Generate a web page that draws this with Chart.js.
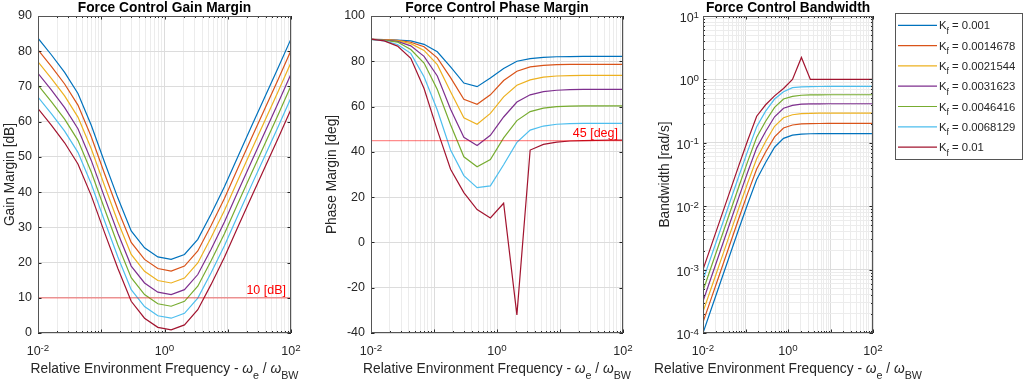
<!DOCTYPE html>
<html>
<head>
<meta charset="utf-8">
<script src="https://cdn.jsdelivr.net/npm/chart.js@4.4.1/dist/chart.umd.min.js"></script>
<style>
    body { margin: 0; background: #fff; width: 1024px; height: 382px; overflow: hidden; position: relative; }
    canvas { position: absolute; top: 0; }
</style>
</head>
<body>
<canvas id="gain" width="320" height="382" style="left:0"></canvas>
<canvas id="phase" width="320" height="382" style="left:320px"></canvas>
<canvas id="bw" width="384" height="382" style="left:640px"></canvas>
<script>
// sample points (relative environment frequency)
const FREQ = [0.01, 0.016238, 0.026367, 0.042813, 0.069519, 0.11288, 0.1833, 0.29764, 0.48329, 0.78476,
    1.2743, 2.0691, 3.3598, 5.4556, 8.8587, 14.384, 23.357, 37.927, 61.585, 100];
const KF_VALUES = ['0.001', '0.0014678', '0.0021544', '0.0031623', '0.0046416', '0.0068129', '0.01'];
const COLORS = ['#0072BD', '#D95319', '#EDB120', '#7E2F8E', '#77AC30', '#4DBEEE', '#A2142F'];

// one row per Kf
const GAIN_MARGIN = [
    [83.7, 79.0, 74.0, 68.0, 59.0, 48.5, 38.3, 29.0, 24.2, 21.6, 20.9, 22.3, 26.6, 33.8, 41.5, 50.0, 58.4, 66.7, 75.0, 83.5],
    [80.4, 75.7, 70.7, 64.7, 55.7, 45.2, 35.0, 25.7, 20.9, 18.3, 17.6, 19.0, 23.3, 30.5, 38.2, 46.7, 55.1, 63.4, 71.7, 80.2],
    [77.0, 72.3, 67.3, 61.3, 52.3, 41.8, 31.6, 22.3, 17.5, 14.9, 14.2, 15.6, 19.9, 27.1, 34.8, 43.3, 51.7, 60.0, 68.3, 76.8],
    [73.7, 69.0, 64.0, 58.0, 49.0, 38.5, 28.3, 19.0, 14.2, 11.6, 10.9, 12.3, 16.6, 23.8, 31.5, 40.0, 48.4, 56.7, 65.0, 73.5],
    [70.4, 65.7, 60.7, 54.7, 45.7, 35.2, 25.0, 15.7, 10.9, 8.3, 7.6, 9.0, 13.3, 20.5, 28.2, 36.7, 45.1, 53.4, 61.7, 70.2],
    [67.0, 62.3, 57.3, 51.3, 42.3, 31.8, 21.6, 12.3, 7.5, 4.9, 4.2, 5.6, 9.9, 17.1, 24.8, 33.3, 41.7, 50.0, 58.3, 66.8],
    [63.7, 59.0, 54.0, 48.0, 39.0, 28.5, 18.3, 9.0, 4.2, 1.6, 0.9, 2.3, 6.6, 13.8, 21.5, 30.0, 38.4, 46.7, 55.0, 63.5],
];
const PHASE_MARGIN = [
    [89.7, 89.6, 89.4, 89.0, 87.5, 84.2, 77.5, 70.4, 68.8, 72.6, 76.8, 80.0, 81.2, 81.7, 82.0, 82.1, 82.2, 82.2, 82.2, 82.2],
    [89.7, 89.6, 89.3, 88.4, 86.4, 81.5, 72.8, 63.2, 61.0, 65.2, 71.5, 75.6, 77.5, 78.2, 78.5, 78.6, 78.6, 78.6, 78.6, 78.6],
    [89.7, 89.5, 89.1, 87.8, 84.8, 78.5, 66.5, 55.0, 52.2, 57.0, 64.3, 69.4, 71.8, 73.0, 73.5, 73.7, 73.8, 73.8, 73.8, 73.8],
    [89.7, 89.4, 88.8, 86.8, 82.2, 73.5, 58.8, 46.4, 42.8, 47.3, 55.4, 62.0, 65.2, 66.6, 67.2, 67.5, 67.6, 67.6, 67.6, 67.6],
    [89.7, 89.3, 88.5, 85.2, 79.2, 67.5, 52.0, 37.8, 33.4, 36.6, 46.2, 53.8, 57.8, 59.3, 60.0, 60.2, 60.3, 60.3, 60.3, 60.3],
    [89.7, 89.0, 87.4, 83.5, 73.2, 58.5, 40.8, 29.5, 24.2, 25.0, 34.3, 44.2, 49.6, 51.4, 52.2, 52.5, 52.6, 52.6, 52.6, 52.6],
    [89.8, 89.0, 86.7, 81.3, 68.0, 49.6, 32.3, 22.0, 14.5, 10.8, 17.3, -32.0, 40.8, 43.3, 44.3, 44.8, 45.0, 45.1, 45.2, 45.2],
];
const BANDWIDTH = [
    [1.0e-4, 2.57e-4, 6.61e-4, 1.70e-3, 4.37e-3, 0.01096, 0.0263, 0.049, 0.0851, 0.1175, 0.1318, 0.1374, 0.139, 0.1396, 0.14, 0.14, 0.14, 0.14, 0.14, 0.14],
    [1.47e-4, 3.78e-4, 9.70e-4, 2.49e-3, 6.41e-3, 0.0161, 0.0386, 0.0716, 0.124, 0.171, 0.191, 0.199, 0.201, 0.2015, 0.202, 0.202, 0.202, 0.202, 0.202, 0.202],
    [2.15e-4, 5.50e-4, 1.41e-3, 3.63e-3, 9.33e-3, 0.0234, 0.0562, 0.1047, 0.182, 0.248, 0.277, 0.288, 0.292, 0.293, 0.294, 0.294, 0.294, 0.294, 0.294, 0.294],
    [3.16e-4, 8.13e-4, 2.09e-3, 5.37e-3, 0.0138, 0.0347, 0.0832, 0.151, 0.257, 0.351, 0.389, 0.406, 0.41, 0.412, 0.413, 0.413, 0.413, 0.413, 0.413, 0.413],
    [4.64e-4, 1.19e-3, 3.07e-3, 7.89e-3, 0.0203, 0.0509, 0.122, 0.219, 0.363, 0.49, 0.54, 0.562, 0.569, 0.571, 0.573, 0.573, 0.573, 0.573, 0.573, 0.573],
    [6.81e-4, 1.75e-3, 4.50e-3, 0.01156, 0.0297, 0.0746, 0.179, 0.316, 0.49, 0.64, 0.741, 0.76, 0.769, 0.773, 0.775, 0.775, 0.775, 0.775, 0.775, 0.775],
    [1.0e-3, 2.57e-3, 6.61e-3, 0.017, 0.0437, 0.1096, 0.263, 0.398, 0.55, 0.72, 1.0, 2.22, 1.0, 1.0, 1.0, 1.0, 1.0, 1.0, 1.0, 1.0],
];

const GAIN_REF = 10;
const PHASE_REF = 45;
const X_TICK_EXP = [-2, 0, 2];
const BW_TICK_EXP = [-4, -3, -2, -1, 0, 1];

const FONT = '"Liberation Sans", Arial, Helvetica, sans-serif';
const INK = '#262626';
const GRID_MAJOR = '#dcdcdc';
const GRID_MINOR = '#ececec';

function isDecade(v) {
    const l = Math.log10(v);
    return Math.abs(l - Math.round(l)) < 1e-6;
}

function logGrid(minExp, maxExp) {
    const vals = [];
    for (let e = minExp; e < maxExp; e++) {
        for (let m = 1; m < 10; m++) vals.push(m * Math.pow(10, e));
    }
    vals.push(Math.pow(10, maxExp));
    return vals;
}

// text with sub/superscripts: parts = [{t, k: 1 sup / -1 sub, it}]
function rich(ctx, parts, x, y, size, align) {
    const fontFor = (p) => `${p.it ? 'italic ' : ''}${p.k ? size * 0.78 : size}px ${FONT}`;
    let w = 0;
    parts.forEach((p) => { ctx.font = fontFor(p); p.w = ctx.measureText(p.t).width; w += p.w; });
    let cx = align === 'center' ? x - w / 2 : align === 'right' ? x - w : x;
    ctx.textAlign = 'left';
    ctx.textBaseline = 'alphabetic';
    parts.forEach((p) => {
        ctx.font = fontFor(p);
        const dy = p.k === 1 ? -size * 0.36 : p.k === -1 ? size * 0.4 : 0;
        ctx.fillText(p.t, cx, y + dy);
        cx += p.w;
    });
}

const X_TITLE = () => [
    { t: 'Relative Environment Frequency - ' }, { t: 'ω', it: true }, { t: 'e', k: -1 },
    { t: ' / ' }, { t: 'ω', it: true }, { t: 'BW', k: -1 },
];

const matlabAxes = {
    id: 'matlabAxes',
    afterDraw(chart, args, o) {
        const { ctx, chartArea: a, scales } = chart;
        const xs = scales.x;
        const ys = scales.y;
        ctx.save();

        // inward tick marks + box
        ctx.strokeStyle = INK;
        ctx.lineWidth = 1;
        ctx.beginPath();
        xs.ticks.forEach((t) => {
            const px = Math.round(xs.getPixelForValue(t.value)) + 0.5;
            const len = isDecade(t.value) ? 3.5 : 2;
            ctx.moveTo(px, a.bottom); ctx.lineTo(px, a.bottom - len);
            ctx.moveTo(px, a.top); ctx.lineTo(px, a.top + len);
        });
        ys.ticks.forEach((t) => {
            const py = Math.round(ys.getPixelForValue(t.value)) + 0.5;
            const len = (!o.logY || isDecade(t.value)) ? 3.5 : 2;
            ctx.moveTo(a.left, py); ctx.lineTo(a.left + len, py);
            ctx.moveTo(a.right, py); ctx.lineTo(a.right - len, py);
        });
        ctx.stroke();
        ctx.strokeStyle = '#555';
        ctx.strokeRect(Math.round(a.left) + 0.5, Math.round(a.top) + 0.5,
            Math.round(a.right - a.left) - 1, Math.round(a.bottom - a.top) - 1);

        ctx.fillStyle = INK;
        X_TICK_EXP.forEach((e) => {
            rich(ctx, [{ t: '10' }, { t: String(e), k: 1 }], xs.getPixelForValue(Math.pow(10, e)), a.bottom + 22, 12.5, 'center');
        });
        if (o.logY) {
            BW_TICK_EXP.forEach((e) => {
                rich(ctx, [{ t: '10' }, { t: String(e), k: 1 }], a.left - 4, ys.getPixelForValue(Math.pow(10, e)) + 6, 12.5, 'right');
            });
        }

        // axis titles
        rich(ctx, X_TITLE(), (a.left + a.right) / 2, 373, 13.75, 'center');
        ctx.save();
        ctx.translate(o.yTitleX, (a.top + a.bottom) / 2);
        ctx.rotate(-Math.PI / 2);
        rich(ctx, [{ t: o.yTitle }], 0, 0, 13.75, 'center');
        ctx.restore();

        if (o.refText) {
            ctx.fillStyle = '#ff0000';
            ctx.font = `12.5px ${FONT}`;
            ctx.textAlign = 'right';
            ctx.textBaseline = 'alphabetic';
            ctx.fillText(o.refText, a.right - 5, ys.getPixelForValue(o.refValue) - 4);
        }

        if (o.legend) {
            const L = o.legend;
            ctx.fillStyle = '#fff';
            ctx.fillRect(L.left, L.top, L.width, L.height);
            ctx.strokeStyle = '#555';
            ctx.strokeRect(L.left + 0.5, L.top + 0.5, L.width - 1, L.height - 1);
            KF_VALUES.forEach((kf, i) => {
                const cy = L.top + 12.3 + i * 20.3;
                ctx.strokeStyle = COLORS[i];
                ctx.lineWidth = 1.2;
                ctx.beginPath();
                ctx.moveTo(L.left + 3, cy);
                ctx.lineTo(L.left + 42, cy);
                ctx.stroke();
                ctx.fillStyle = INK;
                rich(ctx, [{ t: 'K' }, { t: 'f', k: -1 }, { t: ` = ${kf}` }], L.left + 44, cy + 4, 11.3, 'left');
            });
        }
        ctx.restore();
    },
};

function makePanel(id, rows, opts) {
    const datasets = rows.map((row, i) => ({
        label: `Kf = ${KF_VALUES[i]}`,
        data: FREQ.map((f, j) => ({ x: f, y: row[j] })),
        borderColor: COLORS[i],
        borderWidth: 1.2,
        pointRadius: 0,
        tension: 0,
        order: -i,
    }));
    if (opts.refValue !== undefined) {
        datasets.push({
            label: 'ref',
            data: [{ x: FREQ[0], y: opts.refValue }, { x: FREQ[FREQ.length - 1], y: opts.refValue }],
            borderColor: 'rgba(255,0,0,0.45)',
            borderWidth: 1.2,
            pointRadius: 0,
            order: -10,
        });
    }
    const xGrid = logGrid(-2, 2);
    const yScale = opts.logY
        ? {
            type: 'logarithmic', min: 1e-4, max: 10,
            afterBuildTicks: (s) => { s.ticks = logGrid(-4, 1).map((v) => ({ value: v })); },
            ticks: { display: false, autoSkip: false },
            grid: { drawTicks: false, color: (c) => (c.tick && isDecade(c.tick.value) ? GRID_MAJOR : GRID_MINOR) },
        }
        : {
            type: 'linear', min: opts.yMin, max: opts.yMax,
            ticks: { stepSize: opts.yStep, padding: 6, autoSkip: false, color: INK, font: { family: FONT, size: 12.5 } },
            grid: { drawTicks: false, color: GRID_MAJOR },
        };
    yScale.border = { display: false };
    yScale.afterFit = (s) => { s.width = opts.yWidth; };

    return new Chart(document.getElementById(id), {
        type: 'line',
        data: { datasets },
        options: {
            responsive: false,
            animation: false,
            devicePixelRatio: 1,
            layout: { padding: { left: 0, top: 0, right: opts.padRight, bottom: 0 } },
            plugins: {
                legend: { display: false },
                tooltip: { enabled: false },
                title: {
                    display: true,
                    text: opts.title,
                    fullSize: false,
                    color: '#000',
                    padding: 0,
                    font: { family: FONT, size: 13.75, weight: 'bold', lineHeight: '16px' },
                },
                matlabAxes: {
                    yTitle: opts.yTitle, yTitleX: opts.yTitleX, logY: !!opts.logY,
                    refText: opts.refText, refValue: opts.refValue, legend: opts.legend,
                },
            },
            scales: {
                x: {
                    type: 'logarithmic', min: 0.01, max: 100,
                    afterBuildTicks: (s) => { s.ticks = xGrid.map((v) => ({ value: v })); },
                    afterFit: (s) => { s.height = 49; },
                    ticks: { display: false, autoSkip: false },
                    border: { display: false },
                    grid: { drawTicks: false, color: (c) => (c.tick && isDecade(c.tick.value) ? GRID_MAJOR : GRID_MINOR) },
                },
                y: yScale,
            },
        },
        plugins: [matlabAxes],
    });
}

makePanel('gain', GAIN_MARGIN, {
    title: 'Force Control Gain Margin', yTitle: 'Gain Margin [dB]', yTitleX: 14,
    yMin: 0, yMax: 90, yStep: 10, yWidth: 38, padRight: 29,
    refValue: GAIN_REF, refText: '10 [dB]',
});
makePanel('phase', PHASE_MARGIN, {
    title: 'Force Control Phase Margin', yTitle: 'Phase Margin [deg]', yTitleX: 16,
    yMin: -40, yMax: 100, yStep: 20, yWidth: 51, padRight: 17,
    refValue: PHASE_REF, refText: '45 [deg]',
});
makePanel('bw', BANDWIDTH, {
    title: 'Force Control Bandwidth', yTitle: 'Bandwidth [rad/s]', yTitleX: 29,
    logY: true, yWidth: 63, padRight: 151,
    legend: { left: 255, top: 13, width: 128, height: 147 },
});
</script>
</body>
</html>
